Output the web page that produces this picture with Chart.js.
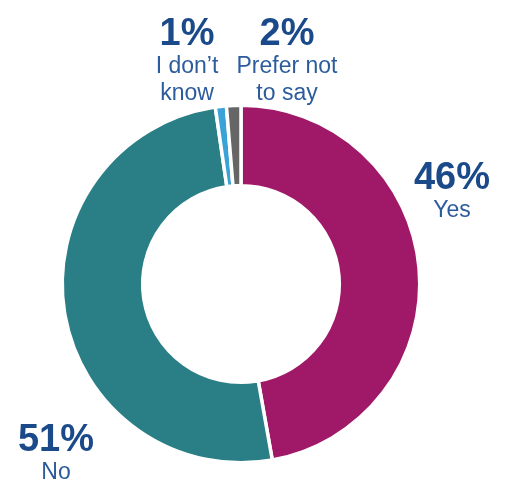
<!DOCTYPE html>
<html>
<head>
<meta charset="utf-8">
<script src="https://cdn.jsdelivr.net/npm/chart.js@4.4.0/dist/chart.umd.min.js"></script>
<style>
  html, body { margin: 0; padding: 0; background: #fff; }
  #wrap { position: relative; width: 507px; height: 487px; }
</style>
</head>
<body>
<div id="wrap"><canvas id="pie"></canvas></div>
<script>
// ========== data ==========
var categories = ["Yes", "No", "I don't know", "Prefer not to say"];
// share of the ring as drawn
var shares = [47.2, 50.5, 1.0, 1.3];
// percentages printed on the chart
var pctLabels = ["46%", "51%", "1%", "2%"];
// category text as printed (line breaks)
var nameLines = [["Yes"], ["No"], ["I don\u2019t", "know"], ["Prefer not", "to say"]];
var colors = ["#a01868", "#2a7e86", "#3aa2d6", "#666666"];

// where each label block sits (centre x, baseline of percent)
var labelPos = [
    { x: 452, y: 189 },
    { x: 56, y: 451 },
    { x: 187, y: 45 },
    { x: 287, y: 45 }
];

// ========== label plugin ==========
var labelPlugin = {
    id: 'labels',
    afterDraw: function(chart) {
        var ctx = chart.ctx;
        ctx.save();
        ctx.textAlign = 'center';
        ctx.textBaseline = 'alphabetic';
        categories.forEach(function(c, i) {
            var p = labelPos[i];
            ctx.fillStyle = '#1b4a8a';
            ctx.font = 'bold 38px "Liberation Sans", Arial, sans-serif';
            ctx.fillText(pctLabels[i], p.x, p.y);
            ctx.fillStyle = '#2c5c9c';
            ctx.font = '23px "Liberation Sans", Arial, sans-serif';
            nameLines[i].forEach(function(line, k) {
                ctx.fillText(line, p.x, p.y + 28 + k * 27);
            });
        });
        ctx.restore();
    }
};

// ========== chart ==========
var ctx = document.getElementById('pie').getContext('2d');
new Chart(ctx, {
    type: 'doughnut',
    data: {
        labels: categories,
        datasets: [{
            data: shares,
            backgroundColor: colors,
            borderColor: '#ffffff',
            borderWidth: 3.5
        }]
    },
    options: {
        responsive: true,
        maintainAspectRatio: false,
        animation: false,
        cutout: '55%',
        layout: { padding: { top: 103.5, bottom: 22.5, left: 60.5, right: 85.5 } },
        plugins: {
            legend: { display: false },
            tooltip: { enabled: false }
        }
    },
    plugins: [labelPlugin]
});
</script>
</body>
</html>
